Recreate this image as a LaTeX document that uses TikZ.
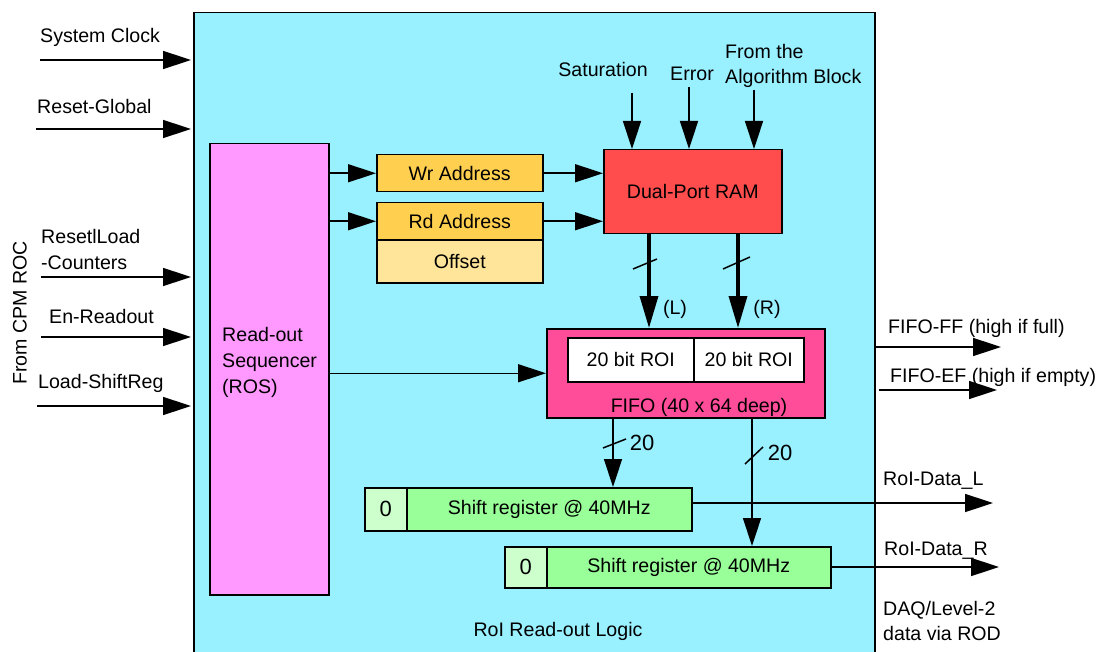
\documentclass[tikz,border=0pt]{standalone}
\usepackage{fontspec}
\setmainfont{Liberation Sans}
\usetikzlibrary{arrows.meta}
\definecolor{logicbg}{RGB}{153,240,255}
\definecolor{rospink}{RGB}{255,153,255}
\definecolor{addrgold}{RGB}{255,208,80}
\definecolor{offsetc}{RGB}{255,229,153}
\definecolor{ramred}{RGB}{255,77,77}
\definecolor{fifopink}{RGB}{255,77,153}
\definecolor{srgreen}{RGB}{153,255,153}
\definecolor{srzero}{RGB}{204,255,204}
\begin{document}
\begin{tikzpicture}[x=1pt,y=-1pt,
  font=\fontsize{19.6}{23}\selectfont,
  box/.style={draw=black, line width=1.5pt, inner sep=0pt, anchor=north west},
  arr/.style={line width=1.5pt, -{Triangle[length=28pt,width=18pt]}},
  fat/.style={line width=3.5pt, -{Triangle[length=32pt,width=18pt]}},
  slash/.style={line width=1.5pt},
  lbl/.style={inner sep=0pt},
  big/.style={font=\fontsize{22}{26}\selectfont}]
\useasboundingbox (0,0) rectangle (1099,652);
\clip (0,0) rectangle (1099,652);

% read-out logic block
\node[box, fill=logicbg, minimum width=681pt, minimum height=680pt] (main) at (193,12) {};

% sequencer
\node[box, fill=rospink, minimum width=119pt, minimum height=451pt] (ros) at (209,143) {};
\node[lbl, anchor=west, align=left, font=\fontsize{19.6}{26}\selectfont] (rostxt) at (222,362) {Read-out\\Sequencer\\(ROS)};

% address registers
\node[box, fill=addrgold, minimum width=166pt, minimum height=37pt] (wr) at (376,154) {Wr Address};
\node[box, fill=addrgold, minimum width=166pt, minimum height=37pt] (rd) at (376,202) {Rd Address};
\node[box, fill=offsetc, minimum width=166pt, minimum height=43pt] (off) at (376,239) {Offset};

% dual-port RAM
\node[box, fill=ramred, minimum width=178pt, minimum height=84pt] (ram) at (603,149) {Dual-Port RAM};

% FIFO
\node[box, fill=fifopink, minimum width=278pt, minimum height=89pt] (fifo) at (546,328) {};
\node[box, fill=white, minimum width=126pt, minimum height=44pt] (roiL) at (567,337) {20 bit ROI};
\node[box, fill=white, minimum width=110pt, minimum height=44pt] (roiR) at (693,337) {20 bit ROI};
\node[lbl] (fifotxt) at (699,407) {FIFO (40 x 64 deep)};

% shift registers
\node[box, big, fill=srzero, minimum width=42pt, minimum height=43pt] (sr1z) at (364,487) {0};
\node[box, fill=srgreen, minimum width=285pt, minimum height=43pt] (sr1) at (406,487) {Shift register @ 40MHz};
\node[box, big, fill=srzero, minimum width=42pt, minimum height=41pt] (sr2z) at (504,546) {0};
\node[box, fill=srgreen, minimum width=284pt, minimum height=41pt] (sr2) at (546,546) {Shift register @ 40MHz};

% external inputs
\node[lbl, anchor=west] (tClk) at (40,37) {System Clock};
\node[lbl, anchor=west] (tRst) at (37,106) {Reset-Global};
\node[lbl, anchor=west] (tRL1) at (41,236) {ResetlLoad};
\node[lbl, anchor=west] (tRL2) at (41,263) {-Counters};
\node[lbl, anchor=west] (tEn) at (49,316) {En-Readout};
\node[lbl, anchor=west] (tLd) at (38,383) {Load-ShiftReg};
\node[lbl, rotate=90] (tCPM) at (20,313) {From CPM ROC};

\coordinate (inClk) at (40,60);
\coordinate (inRst) at (36,129);
\coordinate (inRL) at (41,277);
\coordinate (inEn) at (41,337);
\coordinate (inLd) at (37,406);
\foreach \c in {inClk,inRst,inRL,inEn,inLd}
  \draw[arr, shorten >=2pt] (\c) -- (main.west |- \c);

% sequencer to address registers and FIFO
\draw[arr] (ros.east |- wr.west) -- (wr.west);
\draw[arr] (ros.east |- rd.west) -- (rd.west);
\draw[arr] (ros.east |- fifo.west) -- (fifo.west);

% addresses into the RAM
\draw[arr] (wr.east) -- (wr.east -| ram.west);
\draw[arr] (rd.east) -- (rd.east -| ram.west);

% inputs from the algorithm block
\node[lbl] (tSat) at (603,69) {Saturation};
\node[lbl] (tErr) at (692,74) {Error};
\node[lbl, anchor=west] (tAlg1) at (725,51) {From the};
\node[lbl, anchor=west] (tAlg2) at (725,78) {Algorithm Block};
\coordinate (sat) at (632,93);
\coordinate (err) at (689,87);
\coordinate (alg) at (754,90);
\foreach \c in {sat,err,alg}
  \draw[arr] (\c) -- (\c |- ram.north);

% RAM outputs into the FIFO
\path ([xshift=46pt]ram.south west) coordinate (pL)
      ([xshift=135pt]ram.south west) coordinate (pR);
\draw[fat] (pL) -- (pL |- fifo.north);
\draw[fat] (pR) -- (pR |- fifo.north);
\draw[slash] (633,269) -- (657,259);
\draw[slash] (723,269) -- (750,257);
\node[lbl] (tL) at (675,309) {(L)};
\node[lbl] (tR) at (767,309) {(R)};

% FIFO outputs into the shift registers
\path ([xshift=67pt]fifo.south west) coordinate (qL)
      ([xshift=206pt]fifo.south west) coordinate (qR);
\draw[arr] (qL) -- (qL |- sr1.north);
\draw[arr] (qR) -- (qR |- sr2.north);
\draw[slash] (603,448) -- (626,439);
\draw[slash] (745,464) -- (763,447);
\node[lbl, big] (t20a) at (642,443) {20};
\node[lbl, big] (t20b) at (780,453) {20};

% outputs
\coordinate (ff) at (1001,347);
\coordinate (ef) at (997,390);
\coordinate (dL) at (993,503);
\coordinate (dR) at (999,567);
\draw[arr] (main.east |- ff) -- (ff);
\draw[arr, shorten <=3pt] (main.east |- ef) -- (ef);
\draw[arr] (sr1.east |- dL) -- (dL);
\draw[arr] (sr2.east |- dR) -- (dR);
\node[lbl, anchor=west] (tFF) at (888,328) {FIFO-FF (high if full)};
\node[lbl, anchor=west] (tEF) at (890,377) {FIFO-EF (high if empty)};
\node[lbl, anchor=west] (tDL) at (883,481) {RoI-Data\_L};
\node[lbl, anchor=west] (tDR) at (884,551) {RoI-Data\_R};
\node[lbl, anchor=west, align=left, font=\fontsize{19.6}{25}\selectfont] (tDAQ) at (883,621) {DAQ/Level-2\\data via ROD};

\node[lbl] (tLogic) at (558,631) {RoI Read-out Logic};
\end{tikzpicture}
\end{document}
